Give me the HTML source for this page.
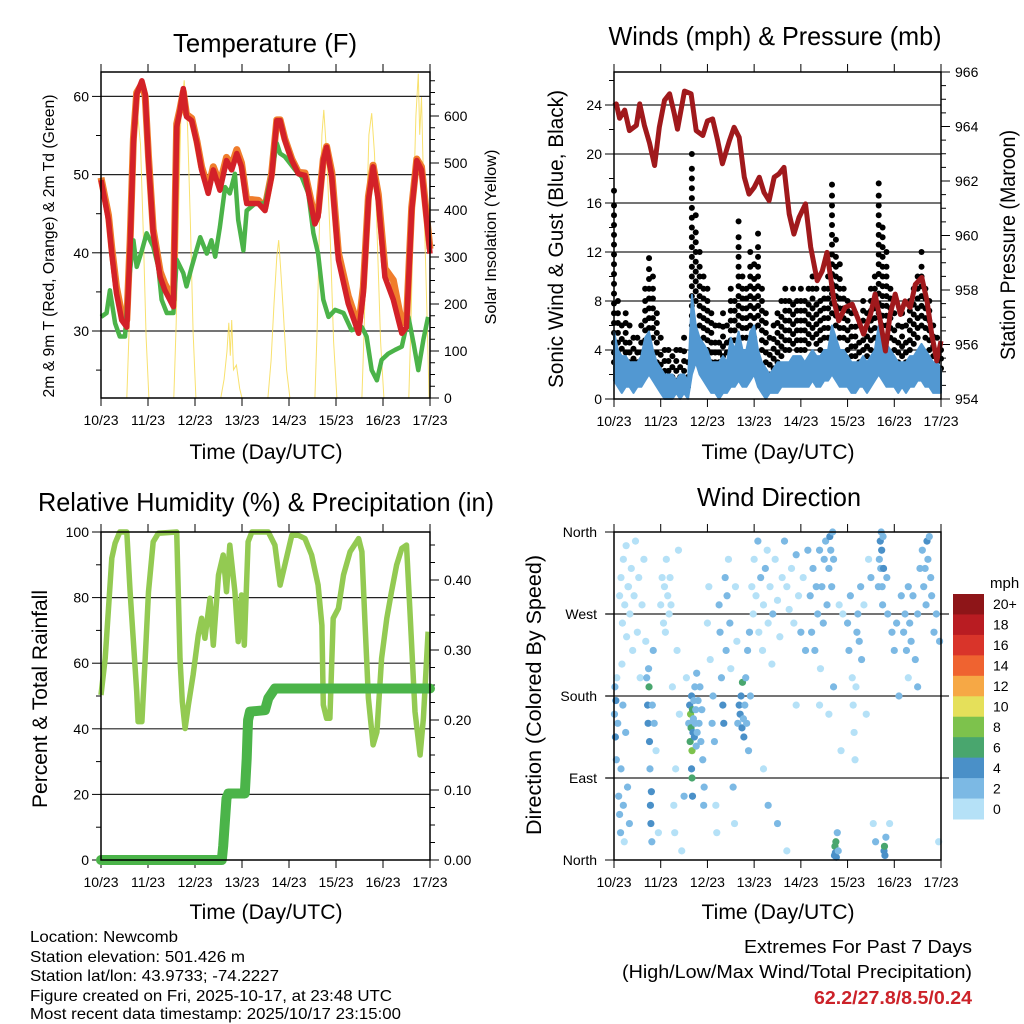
<!DOCTYPE html>
<html><head><meta charset="utf-8"><style>
html,body{margin:0;padding:0;background:#fff;}
svg{display:block;font-family:"Liberation Sans",sans-serif;}
</style></head><body>
<svg id="fig" xmlns="http://www.w3.org/2000/svg" width="1024" height="1024" viewBox="0 0 1024 1024">
<rect x="0" y="0" width="1024" height="1024" fill="#fff"/>
<g id="texts" fill="#000">
<text x="265" y="52" font-size="26" text-anchor="middle" textLength="184" lengthAdjust="spacingAndGlyphs">Temperature (F)</text>
<text x="775" y="45" font-size="26" text-anchor="middle" textLength="333" lengthAdjust="spacingAndGlyphs">Winds (mph) &amp; Pressure (mb)</text>
<text x="266" y="511" font-size="26" text-anchor="middle" textLength="456" lengthAdjust="spacingAndGlyphs">Relative Humidity (%) &amp; Precipitation (in)</text>
<text x="779" y="506" font-size="26" text-anchor="middle" textLength="164" lengthAdjust="spacingAndGlyphs">Wind Direction</text>
<text x="266" y="459" font-size="21" text-anchor="middle" textLength="153" lengthAdjust="spacingAndGlyphs">Time (Day/UTC)</text>
<text x="778" y="459" font-size="21" text-anchor="middle" textLength="153" lengthAdjust="spacingAndGlyphs">Time (Day/UTC)</text>
<text x="266" y="919" font-size="21" text-anchor="middle" textLength="153" lengthAdjust="spacingAndGlyphs">Time (Day/UTC)</text>
<text x="778" y="919" font-size="21" text-anchor="middle" textLength="153" lengthAdjust="spacingAndGlyphs">Time (Day/UTC)</text>
<text transform="translate(54,246) rotate(-90)" font-size="16" text-anchor="middle" textLength="303" lengthAdjust="spacingAndGlyphs">2m &amp; 9m T (Red, Orange) &amp; 2m Td (Green)</text>
<text transform="translate(496,237) rotate(-90)" font-size="16" text-anchor="middle" textLength="175" lengthAdjust="spacingAndGlyphs">Solar Insolation (Yellow)</text>
<text transform="translate(563,239) rotate(-90)" font-size="21" text-anchor="middle" textLength="298" lengthAdjust="spacingAndGlyphs">Sonic Wind &amp; Gust (Blue, Black)</text>
<text transform="translate(1015,245) rotate(-90)" font-size="21" text-anchor="middle" textLength="230" lengthAdjust="spacingAndGlyphs">Station Pressure (Maroon)</text>
<text transform="translate(47,699) rotate(-90)" font-size="21" text-anchor="middle" textLength="218" lengthAdjust="spacingAndGlyphs">Percent &amp; Total Rainfall</text>
<text transform="translate(541,695) rotate(-90)" font-size="21" text-anchor="middle" textLength="280" lengthAdjust="spacingAndGlyphs">Direction (Colored By Speed)</text>
<text x="30" y="942" font-size="16" textLength="148" lengthAdjust="spacingAndGlyphs">Location: Newcomb</text>
<text x="30" y="962" font-size="16" textLength="215" lengthAdjust="spacingAndGlyphs">Station elevation: 501.426 m</text>
<text x="30" y="981" font-size="16" textLength="249" lengthAdjust="spacingAndGlyphs">Station lat/lon: 43.9733; -74.2227</text>
<text x="30" y="1001" font-size="16" textLength="362" lengthAdjust="spacingAndGlyphs">Figure created on Fri, 2025-10-17, at 23:48 UTC</text>
<text x="30" y="1019" font-size="16" textLength="371" lengthAdjust="spacingAndGlyphs">Most recent data timestamp: 2025/10/17 23:15:00</text>
<text x="972" y="953" font-size="18" text-anchor="end" textLength="228" lengthAdjust="spacingAndGlyphs">Extremes For Past 7 Days</text>
<text x="972" y="978" font-size="18" text-anchor="end" textLength="350" lengthAdjust="spacingAndGlyphs">(High/Low/Max Wind/Total Precipitation)</text>
<text x="972" y="1004" font-size="18" font-weight="bold" fill="#cc2229" text-anchor="end" textLength="158" lengthAdjust="spacingAndGlyphs">62.2/27.8/8.5/0.24</text>
<text x="990" y="588" font-size="15">mph</text>
</g>
</svg>
<script>
// ---------------- data ----------------
const dayLabels = ["10/23","11/23","12/23","13/23","14/23","15/23","16/23","17/23"];
// Temperature panel
const tDays = [0,.16,.23,.33,.44,.55,.62,.69,.76,.87,.94,1.01,1.11,1.26,1.36,1.54,1.61,1.68,1.75,1.82,1.93,2.04,2.14,2.28,2.39,2.53,2.67,2.78,2.89,2.99,3.1,3.21,3.35,3.49,3.63,3.74,3.81,3.91,4.06,4.2,4.34,4.45,4.55,4.62,4.73,4.8,4.91,5.05,5.26,5.48,5.58,5.69,5.79,5.9,6.04,6.22,6.4,6.5,6.61,6.72,6.82,7.0];
const t2Vals = [49.3,44.2,39.9,34.8,31.4,30.5,40.8,54,60.3,62,60.3,51.8,42.5,36.9,35.2,33.1,56.1,58.2,61,57.4,56.9,54,50.6,47.6,50.6,48,51.8,50.6,52.7,51,46.3,46.3,46.3,45.4,49.7,56.9,56.9,54.4,51.8,50.1,49.9,46.7,43.7,44.6,51.8,53.5,49.7,39.1,33.5,29.7,34.8,46.7,51,46.7,36.9,34,29.7,30.5,45.4,51.8,50.6,39.9];
const t9Vals = [49.6,44.8,40.6,35.6,32.2,31.4,41.5,54.6,60.5,61.6,60,52.3,43,37.6,36,34,56.5,58.4,60.6,57.7,57.2,54.3,51,48.2,51,48.8,52.2,51.2,53.2,51.5,46.8,46.8,46.7,45.8,50.1,57,57,54.6,52,50.3,50.2,47.2,44.3,45.2,52,53.6,50.3,40,34.5,30.5,35.6,47.2,51.2,47.5,38,36.5,31,31.4,45.8,52,51,40.5];
const tdDays = [0,.12,.19,.3,.4,.51,.58,.69,.76,.87,.97,1.11,1.22,1.29,1.4,1.54,1.61,1.75,1.82,1.93,2.11,2.25,2.35,2.43,2.53,2.64,2.74,2.85,2.92,3.03,3.1,3.28,3.49,3.63,3.74,3.81,3.91,4.13,4.27,4.41,4.52,4.62,4.73,4.84,4.98,5.16,5.33,5.55,5.65,5.76,5.87,5.97,6.11,6.26,6.4,6.54,6.65,6.75,6.86,6.96];
const tdVals = [31.8,32.3,35.2,31,29.3,29.3,35.7,41.6,38.2,40.3,42.5,40.8,38.2,34,32.3,32.3,39.1,37.4,35.7,38.2,42,39.9,41.6,39.5,43.3,48.4,47.6,50.1,44.2,40.3,45.4,46.3,46.3,50.1,54,52.7,52.3,50.6,49.7,47.6,42.5,39.9,34,31.8,32.7,32.3,30.1,30.5,29.3,25,23.7,26.3,27.1,27.6,28,31.8,28.4,25,28.9,31.8];
const solarDays = [.55,.6,.65,.7,.77,.84,.9,.96,1.02, 1.55,1.6,1.65,1.7,1.77,1.84,1.9,1.96,2.02, 2.55,2.62,2.68,2.72,2.75,2.78,2.82,2.88,2.95,3.0, 3.55,3.62,3.68,3.74,3.78,3.82,3.88,3.95,4.02, 4.55,4.6,4.65,4.7,4.74,4.8,4.88,4.95,5.02, 5.55,5.6,5.65,5.7,5.76,5.82,5.88,5.95,6.02, 6.55,6.6,6.65,6.7,6.75,6.78,6.82,6.87,6.93,6.98];
const solarVals = [0,150,380,560,613,540,350,130,0, 0,160,400,600,676,580,380,140,0, 0,40,100,160,90,166,60,70,20,0, 0,80,200,300,336,280,180,60,0, 0,150,380,560,613,520,330,120,0, 0,150,380,560,606,520,330,120,0, 0,180,420,600,690,560,640,420,200,0];
// Winds panel (2-hourly, 85 values)
const gustHi = [17,8,6,7,6,5,5,6,9,11.5,10,7, 5,4,4,3.5,4,4,5,3,20,15,12,10, 9,7,6,6,7,6,9,8,14.5,10,9,12, 11,13.5,9,7,5,6,7,8,9,8,9,8, 9,8,9,10,9,8,9,10,17.5,13,11,9, 8,7,7,6,8,7,9,10,17.6,14,12,9, 7,6,7,6,8,9,10,12,9,8,6,5,4];
const gustLo = [3,3,2.5,3,3,2.5,3,3,4,5,5,3, 2,1.5,1.5,1,1.5,1,1.5,1,6,8,6,5, 4,3,3,3,3.5,3,4,4,6,5,5,6, 5,6,4,3,2,2.5,3,3.5,4,4,4.5,4, 4,4,4.5,5,4.5,4,5,5,7,6,5,5, 4,3.5,3.5,3,4,3.5,4,5,7,6,6,5, 4,3,3.5,3,4,4.5,5,6,5,4,3.5,3,2.5];
const windHi = [5.5,4,3.5,3.5,3,3,3,3.5,5,5.5,4,3, 2.5,2,2,2,1.5,2,2,1.5,8.5,6,5,4.5, 4,3,3,3,3.5,3,5,4,5.5,4,4,5.5, 6,4,3,2.5,2,2.5,3,3,3,3,3.5,3.5, 3.5,3,3.5,4,3.5,3.5,4,4,6,5,4,4, 3.5,3,3,3,3.5,3,3.5,4,6,5,4.5,4, 3.5,3,3,3,3.5,3.5,4,4.5,4,3.5,3,3,2.5];
const windLo = [1.5,1,.5,1,1,.5,1,1,1.5,2,1.5,1, .5,0,0,0,.5,0,.5,0,2,3,2,1.5, 1,.5,.5,0,.5,.5,1,1,1.5,1,1,1.5, 2,1,.5,0,.5,.5,.5,1,1,1,1,1, 1,1,1,1.5,1,1,1.5,1.5,2,1.5,1,1, 1,.5,.5,1,1,.5,1,1.5,2,1.5,1,1, 1,.5,1,.5,1,1,1.5,1.5,1,1,.5,.5,.5];
const presDays = [0,.05,.12,.23,.33,.48,.55,.65,.76,.87,.97,1.08,1.19,1.29,1.36,1.51,1.65,1.76,1.9,2.0,2.11,2.22,2.32,2.47,2.57,2.68,2.79,2.89,3.0,3.11,3.21,3.32,3.43,3.53,3.64,3.75,3.85,3.96,4.1,4.21,4.35,4.46,4.56,4.71,4.81,4.95,5.1,5.24,5.34,5.49,5.59,5.7,5.81,5.91,6.02,6.13,6.23,6.34,6.45,6.59,6.7,6.8,6.91,7.0];
const presVals = [964.77,964.83,964.3,964.6,963.85,964.04,964.83,964.04,963.4,962.57,963.97,964.96,965.2,964.47,963.9,965.3,965.2,963.85,963.67,964.2,964.28,963.48,962.63,963.48,963.97,963.6,962.14,961.52,961.76,962.14,961.58,961.28,962.14,962.26,962.5,960.79,960.05,960.66,961.16,959.57,958.34,958.7,959.38,957.6,956.87,957.36,957.48,956.87,956.38,957.1,957.85,956.87,955.76,957.1,957.85,957.1,957.6,957.36,958.2,958.46,957.6,956.38,955.4,956.13];
// Humidity panel
const rhDays = [0,.09,.16,.23,.3,.4,.55,.62,.69,.76,.79,.87,.94,1.01,1.11,1.22,1.61,1.68,1.73,1.79,1.86,1.96,2.07,2.14,2.21,2.32,2.39,2.5,2.6,2.67,2.74,2.85,2.92,2.99,3.05,3.13,3.21,3.56,3.7,3.81,3.91,4.06,4.2,4.34,4.48,4.62,4.7,4.73,4.8,4.87,4.94,5.05,5.16,5.3,5.48,5.55,5.62,5.69,5.79,5.87,5.97,6.08,6.18,6.29,6.4,6.5,6.57,6.68,6.79,6.86,6.96];
const rhVals = [50.3,61.5,76.7,92,96.6,100,100,81.8,66.6,51.3,42.2,42.2,61.5,81.8,97,99.6,100,61.5,48.3,40.1,47.3,56.4,68.6,73.7,67.6,79.8,65.5,86.9,93,81.8,96,81.8,66.6,80.8,65.5,97,100,100,96,83.8,89.9,99,99,98,93,83.8,71.6,47.3,43.2,43.2,73.7,76.7,86.9,94,98,94,71.6,49.3,35.1,39,61.5,73.7,81.8,89.9,95,96,76.7,45.2,32,43.2,69.6];
const rainDays = [0,2.57,2.6,2.67,2.71,3.06,3.1,3.12,3.13,3.17,3.49,3.56,3.7,7.0];
const rainVals = [0,0,0.02,0.088,0.095,0.095,0.145,0.183,0.2,0.212,0.214,0.231,0.245,0.245];
// Wind direction panel
const dirDays = [0.01,0.02,0.03,0.04,0.05,0.06,0.08,0.1,0.12,0.14,0.15,0.17,0.19,0.2,0.22,0.25,0.27,0.29,0.31,0.33,
0.12,0.15,0.18,0.2,0.23,0.26,0.3,0.34,0.37,0.4,0.43,0.46,0.5,0.53,0.56,0.6,0.64,0.68,
0.7,0.72,0.73,0.74,0.75,0.76,0.77,0.78,0.79,0.8,0.81,0.82,0.84,0.86,0.9,0.95,
1.0,1.03,1.06,1.08,1.1,1.12,1.15,1.18,1.2,1.22,1.25,1.28,1.3,1.32,1.35,1.38,1.4,1.45,1.5,1.55,
1.6,1.62,1.63,1.64,1.65,1.66,1.67,1.68,1.69,1.7,1.71,1.72,1.73,1.74,1.75,1.76,1.77,1.78,1.8,1.82,1.84,1.86,1.88,1.9,1.92,1.93,1.66,1.67,1.68,
2.0,2.03,2.06,2.1,2.12,2.15,2.18,2.2,2.25,2.27,2.3,2.33,2.35,2.38,2.4,2.42,2.45,2.48,2.5,2.55,2.58,2.6,2.63,2.65,2.68,
2.7,2.72,2.74,2.75,2.77,2.78,2.8,2.82,2.84,2.86,2.88,2.9,2.92,2.95,2.98,
3.0,3.04,3.08,3.1,3.14,3.18,3.2,3.24,3.28,3.3,3.34,3.38,3.4,3.45,3.5,3.55,3.6,3.65,3.7,3.75,3.8,3.85,3.9,3.95,4.0,4.05,4.1,4.15,3.3,3.5,3.7,3.9,3.2,
4.2,4.23,4.26,4.3,4.33,4.36,4.4,4.42,4.45,4.48,4.5,4.53,4.56,4.6,4.62,4.64,4.66,4.68,4.7,4.72,4.73,4.74,4.75,4.76,4.78,4.8,4.82,4.86,4.9,4.4,4.6,4.7,
5.0,5.03,5.06,5.1,5.12,5.14,5.16,5.18,5.2,5.22,5.25,5.28,5.3,5.35,5.4,5.45,5.5,5.55,5.6,
5.66,5.68,5.7,5.71,5.72,5.73,5.74,5.75,5.76,5.77,5.78,5.79,5.8,5.82,5.84,5.86,5.9,5.95,
6.0,6.05,6.1,6.15,6.2,6.23,6.26,6.3,6.33,6.36,6.4,6.45,6.5,6.55,6.6,6.63,6.66,6.68,6.7,6.72,6.75,6.78,6.8,6.85,6.9,6.95,6.97,6.5,6.3];
const dirDeg = [160,190,135,175,110,200,150,70,50,30,100,215,170,60,20,140,245,80,300,40,
290,310,260,330,280,345,300,270,320,230,290,350,250,310,200,280,330,240,
200,170,150,210,190,130,100,60,40,75,20,170,230,150,120,30,
280,310,260,300,250,330,290,270,310,280,190,60,30,100,230,340,160,10,70,200,
150,170,130,160,145,180,120,165,140,155,175,135,190,150,165,125,205,140,175,150,190,130,165,110,60,80,100,90,70,
260,300,220,150,180,130,60,30,280,250,200,170,150,310,230,290,330,260,210,80,40,300,240,150,170,
160,180,145,195,155,135,170,200,150,230,120,250,180,300,270,
330,290,350,250,310,230,280,320,340,260,300,215,270,330,285,245,310,350,300,275,320,260,335,290,250,310,230,340,60,40,10,170,100,
290,250,320,230,300,270,340,210,300,260,330,350,280,320,355,340,300,360,330,5,15,8,20,3,30,10,280,120,270,170,160,190,
260,230,290,200,170,140,110,190,250,270,240,300,220,280,160,330,310,40,20,
300,330,350,320,360,340,300,280,355,320,10,15,5,25,310,270,40,250,
230,260,180,290,250,270,230,300,260,240,290,220,270,320,340,300,320,280,350,330,355,310,290,250,270,20,240,190,200];
const dirSpd = [3,2,5,4,3,1,2,3,2,2,3,1,2,3,1,2,1,2,1,2,
1,1,1,1,1,1,1,1,1,1,1,1,1,1,1,1,1,1,
3,5,4,3,6,5,3,5,4,5,3,3,2,2,1,1,
1,1,1,1,1,1,1,1,1,1,1,1,1,1,1,1,1,1,2,1,
3,5,6,8,7,5,8,6,5,3,3,4,3,3,3,2,3,3,3,2,2,3,2,2,3,3,5,6,4,
1,1,1,2,3,3,1,1,2,3,3,4,4,2,2,2,1,2,1,2,1,1,1,3,4,
5,4,5,6,3,4,3,3,2,2,2,2,2,1,1,
1,1,2,1,2,1,1,2,1,1,1,1,2,1,1,1,1,2,1,1,1,1,2,1,2,1,2,2,2,2,1,1,1,
3,2,2,3,2,3,2,1,2,2,3,2,2,3,4,2,3,3,2,4,6,5,6,4,3,3,1,1,1,1,1,3,
2,2,2,1,1,1,1,1,3,3,2,2,2,1,1,1,2,1,2,
3,3,4,3,3,4,3,3,3,4,5,6,4,3,3,2,1,2,
2,3,2,3,3,3,3,3,3,3,3,2,3,3,3,3,3,3,4,3,3,3,3,2,3,1,2,2,1];
const cbLabels = ["20+","18","16","14","12","10","8","6","4","2","0"];
const cbColors = ["#8e1518","#b91c22","#d9342a","#ef6330","#f6a845","#e5e05a","#7dc24c","#49a66e","#4a90c8","#7cb9e4","#b5e1f7"];

// ---------------- helpers ----------------
const NS = "http://www.w3.org/2000/svg";
const svg = document.getElementById("fig");
function mk(tag, attrs, parent) {
  const e = document.createElementNS(NS, tag);
  for (const k in attrs) e.setAttribute(k, attrs[k]);
  (parent || svg).appendChild(e);
  return e;
}
function linePath(xs, ys, fx, fy) {
  let d = "";
  for (let i = 0; i < xs.length; i++) d += (i ? "L" : "M") + fx(xs[i]).toFixed(1) + "," + fy(ys[i]).toFixed(1);
  return d;
}
function speedColor(s) {
  let idx = Math.min(10, Math.floor(s / 2));
  return cbColors[10 - idx];
}

// ---------------- panels ----------------
const P = {
  temp: {x0:101, x1:430, y0:72, y1:398},
  wind: {x0:614, x1:941, y0:72, y1:399},
  rh:   {x0:101, x1:430, y0:532, y1:860},
  dir:  {x0:614, x1:941, y0:532, y1:860}
};
function xScale(p){ return d => p.x0 + d * (p.x1 - p.x0) / 7; }

function drawFrame(p, name, grid, leftTicks, leftMinor, yL, leftFmt, rightTicks, rightMinor, yR, rightFmt) {
  const g = mk("g", {});
  
  
  const xs = xScale(p);
  grid.forEach(v => {
    const l = mk("line", {x1:p.x0, x2:p.x1, y1:yL(v), y2:yL(v), stroke:"#222", "stroke-width":1.2}, g);
    
    
  });
  for (let d = 0; d <= 7; d++) {
    const x = xs(d);
    mk("line", {x1:x, x2:x, y1:p.y0, y2:p.y0-8, stroke:"#000", "stroke-width":1}, g);
    mk("line", {x1:x, x2:x, y1:p.y1, y2:p.y1+8, stroke:"#000", "stroke-width":1}, g);
    const t = mk("text", {x:x, y:p.y1+27, "font-size":14, "text-anchor":"middle"}, g);
    
    
    t.textContent = dayLabels[d];
  }
  leftMinor.forEach(v => mk("line", {x1:p.x0, x2:p.x0-5, y1:yL(v), y2:yL(v), stroke:"#000", "stroke-width":1}, g));
  leftTicks.forEach(v => {
    mk("line", {x1:p.x0, x2:p.x0-9, y1:yL(v), y2:yL(v), stroke:"#000", "stroke-width":1}, g);
    const t = mk("text", {x:p.x0-12, y:yL(v)+5, "font-size":14, "text-anchor":"end"}, g);
    
    
    t.textContent = leftFmt(v);
  });
  if (rightTicks) {
    rightMinor.forEach(v => mk("line", {x1:p.x1, x2:p.x1+5, y1:yR(v), y2:yR(v), stroke:"#000", "stroke-width":1}, g));
    rightTicks.forEach(v => {
      mk("line", {x1:p.x1, x2:p.x1+9, y1:yR(v), y2:yR(v), stroke:"#000", "stroke-width":1}, g);
      const t = mk("text", {x:p.x1+14, y:yR(v)+5, "font-size":14, "text-anchor":"start"}, g);
      
      
      t.textContent = rightFmt(v);
    });
  }
  return g;
}
function frameBox(p, name) {
  const r = mk("rect", {x:p.x0, y:p.y0, width:p.x1-p.x0, height:p.y1-p.y0, fill:"none", stroke:"#000", "stroke-width":1.5});
  
  
}
function rng(a,b,s){ const o=[]; for(let v=a; v<=b+1e-9; v+=s) o.push(+v.toFixed(3)); return o; }

// ---- Temperature ----
(function(){
  const p = P.temp, xs = xScale(p);
  const yT = v => 331 - (v - 30) * 7.82;
  const yS = w => 398 - w * 0.47;
  drawFrame(p, "temperature", [30,40,50,60], [30,40,50,60], [25,35,45,55], yT, v=>v, [0,100,200,300,400,500,600], rng(0,675,25), yS, v=>v);
  const sol = mk("path", {d:linePath(solarDays, solarVals, xs, yS), fill:"none", stroke:"#f7dc55", "stroke-width":1, opacity:0.85});
  
  
  const t9 = mk("path", {d:linePath(tDays, t9Vals, xs, yT), fill:"none", stroke:"#f07d2c", "stroke-width":7, "stroke-linejoin":"round"});
  
  
  const td = mk("path", {d:linePath(tdDays, tdVals, xs, yT), fill:"none", stroke:"#4bb349", "stroke-width":4.5, "stroke-linejoin":"round"});
  
  
  const t2 = mk("path", {d:linePath(tDays, t2Vals, xs, yT), fill:"none", stroke:"#d32128", "stroke-width":5.5, "stroke-linejoin":"round"});
  
  
  frameBox(p, "temperature");
})();

// ---- Winds ----
(function(){
  const p = P.wind, xs = xScale(p);
  const yW = v => 399 - v * 12.25;
  const yP = v => 399 - (v - 954) * 27.25;
  drawFrame(p, "winds", [4,8,12,16,20,24], [0,4,8,12,16,20,24], [2,6,10,14,18,22,26], yW, v=>v, [954,956,958,960,962,964,966], rng(954,966,0.5), yP, v=>v);
  const gg = mk("g", {fill:"#000"});
  
  
  for (let i = 0; i < gustHi.length; i++) {
    const d = i / 12;
    for (let v = gustLo[i]; v <= gustHi[i] - 0.7; v += 0.8) {
      const c = mk("circle", {cx:xs(d), cy:yW(v), r:3}, gg);
      
      
    }
    const c2 = mk("circle", {cx:xs(d), cy:yW(gustHi[i]), r:3}, gg);
    
    
  }
  let d = "";
  for (let i = 0; i < windHi.length; i++) d += (i ? "L" : "M") + xs(i/12).toFixed(1) + "," + yW(windHi[i]).toFixed(1);
  for (let i = windLo.length - 1; i >= 0; i--) d += "L" + xs(i/12).toFixed(1) + "," + yW(windLo[i]).toFixed(1);
  const wb = mk("path", {d:d + "Z", fill:"#5298d2", stroke:"#5298d2", "stroke-width":2, "stroke-linejoin":"round"});
  
  
  const pr = mk("path", {d:linePath(presDays, presVals, xs, yP), fill:"none", stroke:"#a0191c", "stroke-width":5, "stroke-linejoin":"round"});
  
  
  frameBox(p, "winds");
})();

// ---- Humidity ----
(function(){
  const p = P.rh, xs = xScale(p);
  const yR = v => 860 - v * 3.28;
  const yPr = v => 860 - v * 700;
  drawFrame(p, "humidity", [20,40,60,80], [0,20,40,60,80,100], [10,30,50,70,90], yR, v=>v, [0,0.1,0.2,0.3,0.4], rng(0,0.46,0.025), yPr, v=>v.toFixed(2));
  const rh = mk("path", {d:linePath(rhDays, rhVals, xs, yR), fill:"none", stroke:"#93ca52", "stroke-width":5.5, "stroke-linejoin":"round"});
  
  
  const rn = mk("path", {d:linePath(rainDays, rainVals, xs, yPr), fill:"none", stroke:"#4bb449", "stroke-width":10, "stroke-linejoin":"round", "stroke-linecap":"round"});
  
  
  frameBox(p, "humidity");
})();

// ---- Wind direction ----
(function(){
  const p = P.dir, xs = xScale(p);
  const yD = v => 860 - v * (328 / 360);
  const names = ["North","East","South","West","North"];
  const g = mk("g", {});
  
  
  [90,180,270].forEach(v => mk("line", {x1:p.x0-8, x2:p.x1+8, y1:yD(v), y2:yD(v), stroke:"#222", "stroke-width":1.2}, g));
  for (let d = 0; d <= 7; d++) {
    const x = xs(d);
    mk("line", {x1:x, x2:x, y1:p.y0, y2:p.y0-8, stroke:"#000"}, g);
    mk("line", {x1:x, x2:x, y1:p.y1, y2:p.y1+8, stroke:"#000"}, g);
    const t = mk("text", {x:x, y:p.y1+27, "font-size":14, "text-anchor":"middle"}, g);
    
    
    t.textContent = dayLabels[d];
  }
  names.forEach((n, i) => {
    const v = i * 90;
    mk("line", {x1:p.x0, x2:p.x0-9, y1:yD(v), y2:yD(v), stroke:"#000"}, g);
    const t = mk("text", {x:p.x0-17, y:yD(v)+5, "font-size":14, "text-anchor":"end"}, g);
    
    
    t.textContent = n;
  });
  const pg = mk("g", {});
  
  
  for (let i = 0; i < dirDays.length; i++) {
    const c = mk("circle", {cx:xs(dirDays[i]), cy:yD(dirDeg[i]), r:3.6, fill:speedColor(dirSpd[i])}, pg);
    
    
  }
  frameBox(p, "direction");
  const cb = mk("g", {});
  
  
  const h = 225 / 11;
  cbColors.forEach((c, i) => {
    const r = mk("rect", {x:953, y:594 + i*h, width:31, height:h+0.5, fill:c}, cb);
    
    
  });
  cbLabels.forEach((l, i) => {
    const t = mk("text", {x:993, y:594 + i*h + h/2 + 5, "font-size":14}, cb);
    
    
    t.textContent = l;
  });
})();
</script>
</body></html>
